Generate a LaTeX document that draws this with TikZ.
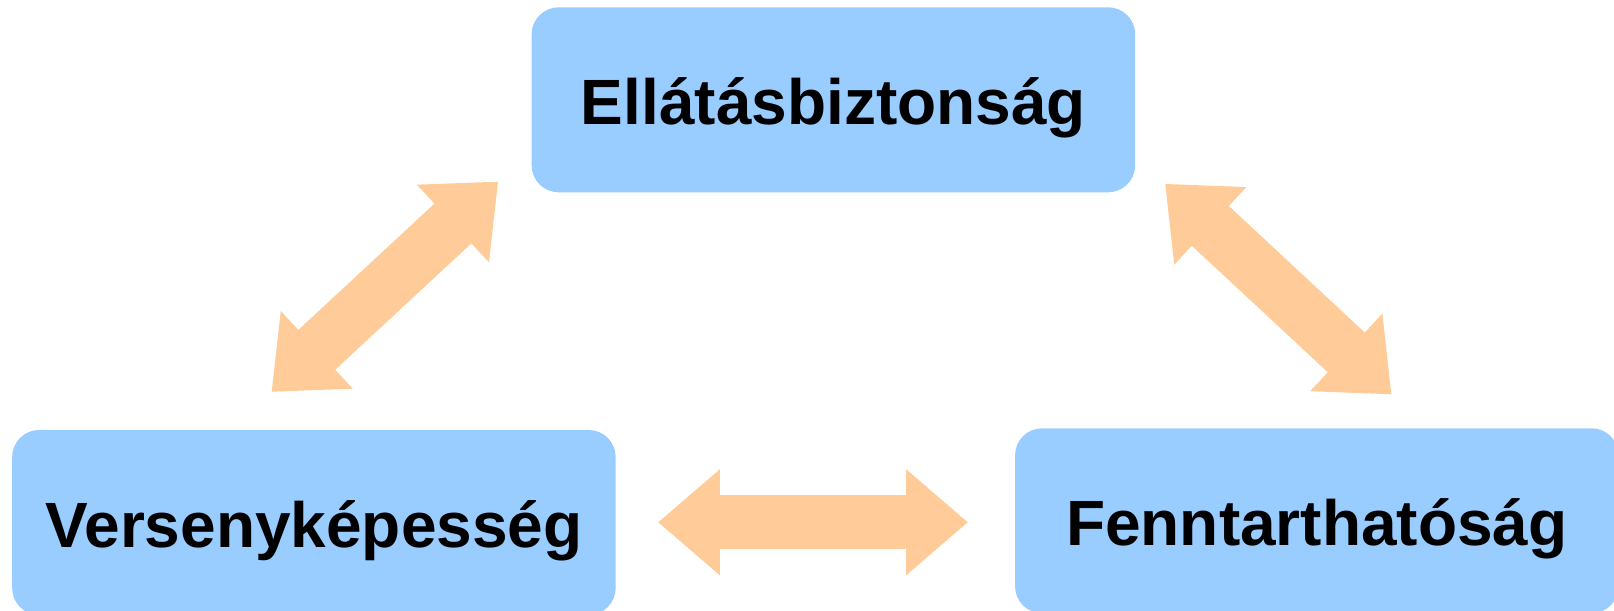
\documentclass[tikz,border=0pt]{standalone}
\usepackage{fontspec}
\setmainfont{Liberation Sans}
\usetikzlibrary{arrows.meta}
\definecolor{boxblue}{HTML}{99CCFF}
\definecolor{peach}{HTML}{FFCC99}
\tikzset{
	goal/.style={fill=boxblue, rounded corners=27bp, minimum width=603.5bp, minimum height=185bp,
		inner sep=0pt, text height=50bp, text depth=0bp, font=\fontsize{64bp}{70bp}\selectfont\bfseries},
	twoway/.style={draw=peach, line width=54bp,
		{Triangle[length=61.5bp,width=106bp,line width=0pt]}-{Triangle[length=61.5bp,width=106bp,line width=0pt]},
		postaction={draw=peach, line width=54bp, arrows=-, shorten <=40bp, shorten >=40bp}}
}
\begin{document}
\begin{tikzpicture}[x=1bp,y=1bp, line join=miter]
	\def\W{1614} \def\H{611} % képméret
	\useasboundingbox (0,0) rectangle (\W,\H);
	% a három cél
	\node[goal] (ellat) at (833.4,511.2) {Ellátásbiztonság};
	\node[goal] (verseny) at (313.9,88.5) {Versenyképesség};
	\node[goal] (fennt) at (1316.8,90.2) {Fenntarthatóság};
	% nyilak végpontjai
	\coordinate (bal1) at (271.7,219.3); \coordinate (bal2) at (498,429.3);
	\coordinate (jobb1) at (1165.3,427); \coordinate (jobb2) at (1391.3,216.7);
	\coordinate (lent1) at (658.3,88.7); \coordinate (lent2) at (967.7,88.7);
	\draw[twoway] (bal1)--(bal2);
	\draw[twoway] (jobb1)--(jobb2);
	\draw[twoway] (lent1)--(lent2);
\end{tikzpicture}
\end{document}
